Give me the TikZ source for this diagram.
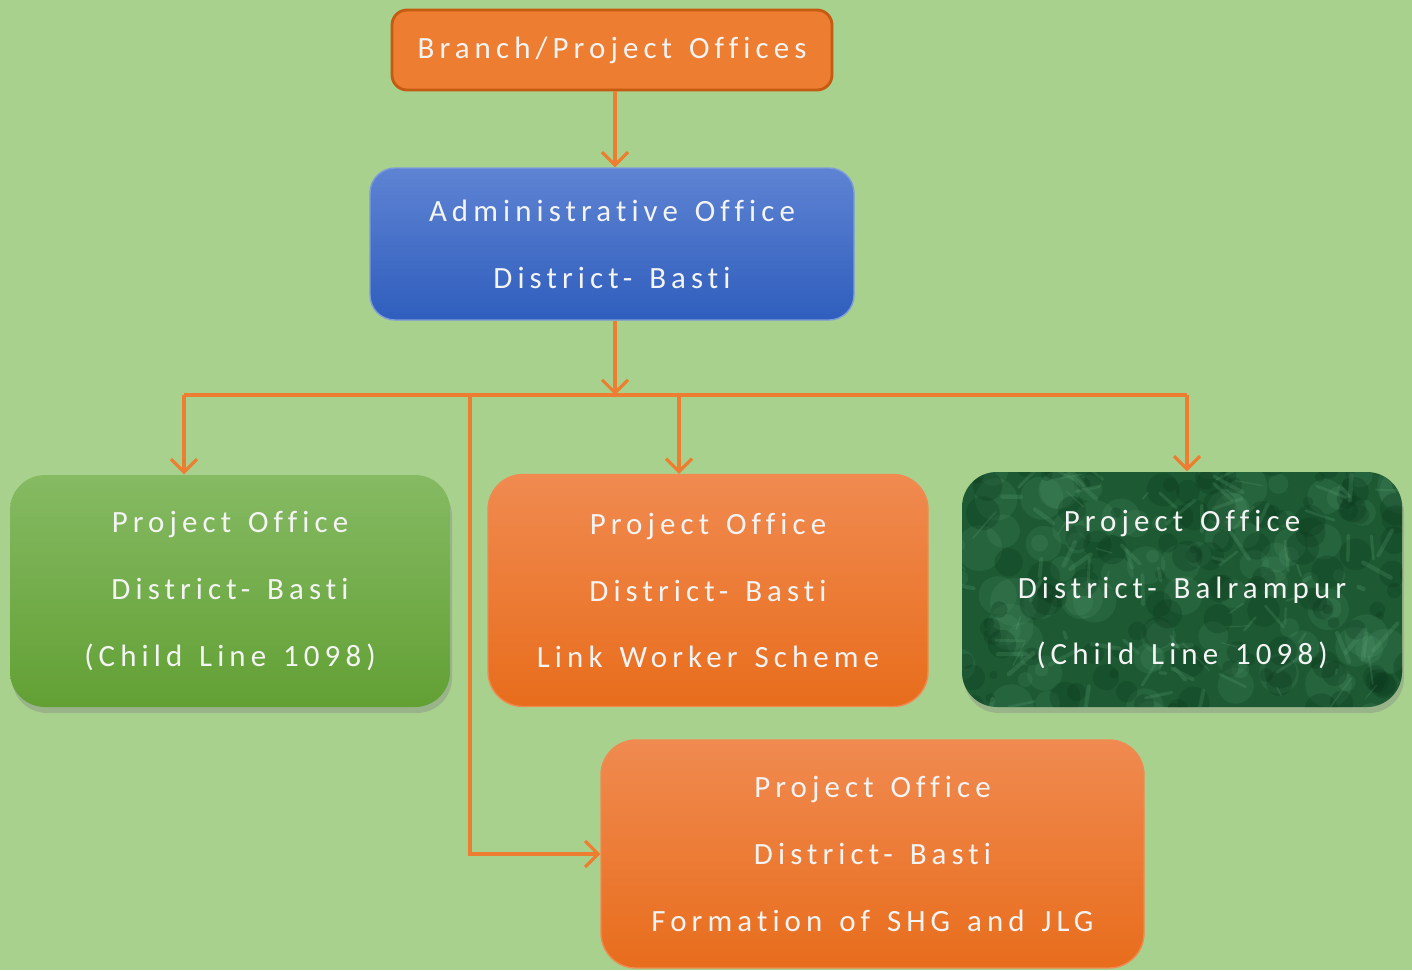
\documentclass[tikz,border=0pt]{standalone}
\usepackage{fontspec}
\setmainfont{Carlito}[LetterSpace=16.5, WordSpace=1.4, Ligatures=CommonOff]
\usetikzlibrary{positioning,arrows.meta,shadows,calc}
\definecolor{bggreen}{HTML}{A9D18E}
\definecolor{linkorange}{HTML}{ED7D31}
\definecolor{orangeedge}{HTML}{C55A11}
\definecolor{bluetop}{HTML}{5E83D3}
\definecolor{bluebot}{HTML}{2F5EBD}
\definecolor{greentop}{HTML}{86BA63}
\definecolor{greenbot}{HTML}{62A034}
\definecolor{orangetop}{HTML}{F08A50}
\definecolor{orangebot}{HTML}{E86D1C}
\definecolor{marble}{HTML}{1D5A33}
\definecolor{marblelight}{HTML}{6DB487}
\definecolor{marbledark}{HTML}{0C3A1E}
\definecolor{boxtext}{HTML}{F4F4F4}
\tikzset{
  conn/.style={draw=linkorange, line width=0.9pt},
  arr/.style={conn, -{Straight Barb[length=1.3mm,width=2.6mm]}},
  office/.style={rounded corners=0.35cm, align=center, text=boxtext, inner sep=0pt,
    font=\fontsize{8.8}{19}\selectfont, minimum width=4.4cm, minimum height=2.32cm},
  shade/.style={drop shadow={opacity=0.35, shadow xshift=0.02cm, shadow yshift=-0.06cm}},
}

\begin{document}
\begin{tikzpicture}

% background
\fill[bggreen] (0,0) rectangle (14.12,-9.70);
\useasboundingbox (0,0) rectangle (14.12,-9.70);

% Top levels
\node[office, fill=linkorange, draw=orangeedge, line width=0.8pt, rounded corners=0.15cm,
  minimum width=4.4cm, minimum height=0.8cm] (branch) at (6.12,-0.50) {Branch/Project Offices};
\node[office, top color=bluetop, bottom color=bluebot, draw=bluetop!80!white, rounded corners=0.25cm,
  minimum width=4.84cm, minimum height=1.52cm] (admin) at (6.12,-2.44) {Administrative Office\\District- Basti};

% Project offices
\node[office, shade, top color=greentop, bottom color=greenbot] (pbasti) at (2.30,-5.91)
  {Project Office\\District- Basti\\(Child Line 1098)};
\node[office, top color=orangetop, bottom color=orangebot, draw=orangetop] (plink) at (7.08,-5.905)
  {Project Office\\District- Basti\\Link Worker Scheme};
\node[office, shade, fill=marble, minimum height=2.35cm,
  path picture={
    \pgfmathsetseed{1098}
    % light patches
    \foreach \i in {1,...,90} {
      \fill[marblelight, opacity=0.12] ($(path picture bounding box.center)+(rand*2.3,rand*1.3)$) circle ({0.06+rnd*0.18});
    }
    % dark patches
    \foreach \i in {1,...,140} {
      \fill[marbledark, opacity=0.3] ($(path picture bounding box.center)+(rand*2.3,rand*1.3)$) circle ({0.04+rnd*0.13});
    }
    % light veins
    \foreach \i in {1,...,110} {
      \pgfmathsetmacro{\vw}{0.3+rnd*1.0}
      \draw[marblelight, opacity=0.18, line width=\vw pt, line cap=round]
        ($(path picture bounding box.center)+(rand*2.3,rand*1.3)$) -- ++({rand*0.3},{rand*0.3});
    }
  }] (pbal) at (11.82,-5.895)
  {Project Office\\District- Balrampur\\(Child Line 1098)};
\node[office, top color=orangetop, bottom color=orangebot, draw=orangetop,
  minimum width=5.43cm, minimum height=2.28cm] (pshg) at (8.725,-8.54)
  {Project Office\\District- Basti\\Formation of SHG and JLG};

% Bus coordinates
\coordinate (bus) at (6.15,-3.95);
\coordinate (b1) at (1.84,-3.95);
\coordinate (b2) at (6.79,-3.95);
\coordinate (b3) at (11.87,-3.95);
\coordinate (b4) at (4.70,-3.95);

% Connectors
\draw[arr] (branch.south -| bus) -- (admin.north -| bus);
\draw[arr] (admin.south -| bus) -- (bus);
\draw[conn] (b1) -- (b3);
\draw[arr] (b1) -- (b1 |- pbasti.north);
\draw[arr] (b2) -- (b2 |- plink.north);
\draw[arr] (b3) -- (b3 |- pbal.north);
\draw[arr] (b4) |- (pshg.west);

\end{tikzpicture}
\end{document}
